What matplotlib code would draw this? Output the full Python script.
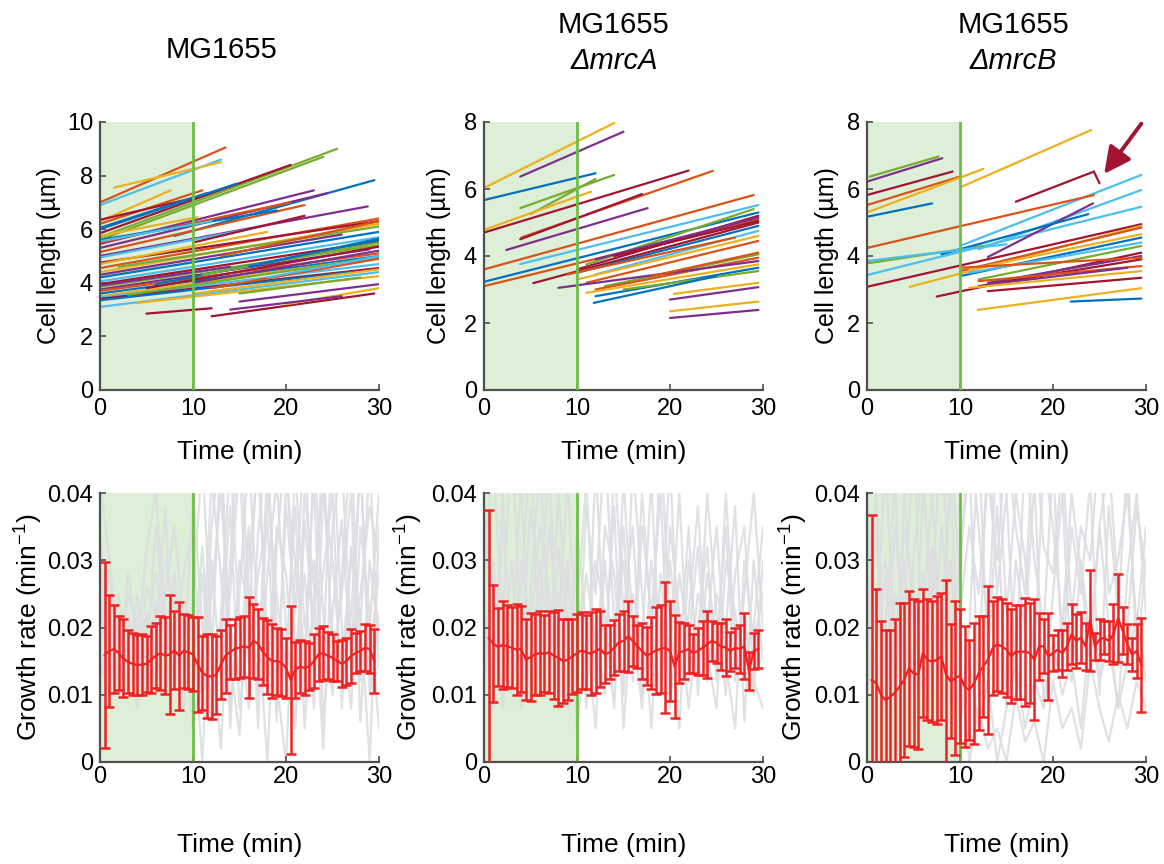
import matplotlib
matplotlib.use('Agg')
import matplotlib.pyplot as plt
import numpy as np

plt.rcParams['font.family'] = ['Liberation Sans', 'DejaVu Sans']
plt.rcParams['mathtext.fontset'] = 'custom'
plt.rcParams['mathtext.rm'] = 'Liberation Sans'
plt.rcParams['mathtext.it'] = 'Liberation Sans:italic'
plt.rcParams['mathtext.default'] = 'regular'

# ---------------- data ----------------
strain_names = ['MG1655', 'MG1655', 'MG1655']
mutations = ['', 'ΔmrcA', 'ΔmrcB']
palette = ['#0072BD', '#D95319', '#EDB120', '#7E2F8E', '#77AC30', '#4DBEEE', '#A2142F']

# cell length traces: start time, end time, start length, end length, colour index
wt_t0 = [0, 0, 1.5, 0, 0, 0, 0, 0, 0, 0, 0,
         0, 8, 0, 0, 0, 0, 0, 0, 0, 0, 0, 0, 2, 0, 0,
         0, 0, 0, 0, 0, 0, 0, 0, 0, 0, 0, 3, 5, 6, 4, 5, 12, 10, 10, 12, 11, 15, 15, 18, 16, 20, 14, 0, 0, 0, 10, 13]
wt_t1 = [13.5, 13, 13, 7.6, 25.5, 24, 20.5, 14.7, 11, 10.5, 11.5,
         28.8, 29.5, 23, 24.5, 20.5, 22, 19, 12, 10.5, 30, 30, 30, 30, 26, 30,
         30, 30, 30, 29, 30, 30, 28, 30, 30, 27, 30, 30, 30, 30, 30, 12, 29.5, 30, 30, 30, 30, 30, 28, 30, 30, 30, 26, 16, 18, 14, 22, 30]
wt_L0 = [7.00, 6.90, 7.55, 6.30, 5.70, 5.60, 5.85, 6.00, 6.20, 6.35, 6.05,
         5.00, 5.75, 5.45, 5.30, 5.50, 5.15, 5.60, 5.55, 5.75, 4.55, 4.75, 4.40, 4.60, 4.30, 4.20,
         4.05, 3.95, 3.85, 3.75, 3.70, 3.60, 3.50, 3.45, 3.40, 3.35, 3.10, 3.55, 3.80, 3.95, 3.25, 2.85, 2.75, 3.60, 4.00, 3.80,
         4.30, 3.30, 3.60, 4.20, 4.60, 3.20, 3.00, 4.95, 4.70, 3.90, 5.50, 5.00]
wt_L1 = [9.05, 8.60, 8.50, 7.45, 9.00, 8.70, 8.40, 7.70, 7.45, 7.20, 7.35,
         6.85, 7.83, 7.45, 7.35, 7.00, 6.90, 6.70, 6.30, 6.45, 6.40, 6.30, 6.20, 6.10, 5.80, 5.90,
         5.70, 5.55, 5.40, 5.25, 5.10, 5.00, 4.85, 4.70, 4.55, 4.40, 4.40, 4.95, 5.35, 5.60, 4.25, 3.05, 3.60, 4.50, 5.20, 4.90,
         5.50, 3.95, 4.20, 5.00, 5.65, 3.80, 3.50, 6.00, 5.90, 4.60, 6.50, 6.30]
wt_c = [1, 5, 2, 2, 4, 4, 6, 0, 1, 6, 0,
        3, 0, 3, 3, 1, 1, 0, 5, 2, 1, 6, 2, 4, 3, 0,
        5, 6, 4, 3, 1, 0, 2, 5, 6, 0, 5, 4, 6, 0, 2, 6, 6, 2, 3, 1,
        4, 3, 4, 5, 0, 2, 3, 5, 2, 3, 6, 1]

a_t0 = [0, 3.9, 0, 3.9, 5, 0, 0, 4, 3.9, 2.4, 0, 3.9, 0, 0, 5.3, 10, 11, 12, 10, 12, 10, 11, 13, 12, 8, 11,
        12, 15, 11.8, 20, 20, 20.4, 20, 18, 14, 9]
a_t1 = [14, 15, 12, 14, 12, 11.5, 22, 24.6, 17, 17.6, 29, 29.5, 29.5, 29.5, 29.5, 29.5, 29, 29.5, 29.5, 29.5, 29.5, 29.5, 29.5, 29.5, 29.5, 29.5,
        29.5, 29.5, 25, 29.5, 29.5, 29.5, 29.5, 29.5, 29.5, 27]
a_L0 = [6.03, 6.37, 5.67, 5.43, 5.25, 4.78, 4.70, 4.55, 4.50, 4.18, 3.60, 3.76, 3.23, 3.10, 3.19, 3.60, 3.75, 3.90, 3.50, 3.45, 3.30, 3.20, 3.10, 3.00, 3.05, 2.90,
        2.80, 3.00, 2.60, 2.35, 2.15, 2.87, 2.70, 3.40, 4.00, 3.45]
a_L1 = [7.97, 7.71, 6.47, 6.42, 6.30, 5.92, 6.55, 6.54, 5.85, 5.43, 5.82, 5.52, 5.30, 5.10, 5.00, 5.20, 5.40, 5.15, 4.90, 4.75, 4.60, 4.45, 4.05, 3.95, 3.85, 3.75,
        3.65, 3.55, 3.40, 2.64, 2.39, 3.20, 3.07, 4.10, 5.05, 4.55]
a_c = [2, 3, 0, 4, 4, 2, 6, 1, 6, 3, 1, 5, 0, 1, 6, 6, 4, 3, 0, 5, 2, 1, 4, 1, 3, 2,
       0, 4, 0, 2, 3, 2, 3, 1, 6, 1]

b_t0 = [0.3, 0, 0, 0, 0, 0, 10.2, 16, 24.4, 10, 12, 0, 0, 0, 13, 8, 0, 0, 4.6, 7.5, 10, 10, 11, 12, 11, 13, 12, 12, 13,
        11.9, 21.9, 10, 11, 13]
b_t1 = [7.7, 8.1, 9.2, 10, 12.5, 7, 24.1, 24.4, 25, 29.5, 29.5, 29.5, 24.4, 12.5, 24.3, 23.8, 15, 29.5, 29.5, 29.5, 29.5, 29.5, 29.5, 29.5, 29.5, 29.5, 29.5, 29.5, 28,
        29.5, 29.5, 29.5, 29.5, 29.5]
b_L0 = [6.37, 6.22, 5.82, 5.52, 5.30, 5.17, 6.07, 5.62, 6.52, 4.30, 4.20, 3.43, 4.24, 3.78, 3.97, 4.05, 3.85, 3.08, 3.08, 2.79, 3.55, 3.40, 3.60, 3.30, 3.50, 3.20, 3.10, 3.25, 3.15,
        2.39, 2.64, 3.65, 3.05, 2.95]
b_L1 = [6.97, 6.92, 6.52, 6.37, 6.60, 5.57, 7.76, 6.52, 6.17, 6.42, 5.97, 5.47, 5.82, 4.30, 5.57, 5.25, 4.35, 4.95, 4.90, 4.10, 4.85, 4.55, 4.65, 4.30, 4.40, 4.00, 3.90, 3.70, 3.65,
        3.04, 2.73, 3.95, 3.55, 3.35]
b_c = [4, 3, 6, 1, 2, 0, 2, 6, 6, 5, 5, 5, 1, 4, 3, 0, 5, 6, 2, 6, 1, 0, 2, 4, 5, 3, 6, 1, 3,
       2, 0, 1, 2, 6]

# growth rate: mean +/- sd every 0.5 min (values in 1e-3 min^-1)
rate_t = [0.5 * k for k in range(1, 60)]
wt_mean = [15.9, 16.5, 16.8, 16.2, 15.4, 14.9, 14.6, 14.4, 14.5, 14.6, 15.2, 15.8, 16.2, 15.8, 16.0, 16.6, 15.8, 16.5, 16.3, 16.0,
           14.5, 13.3, 12.8, 12.7, 13.0, 14.5, 15.8, 16.4, 16.8, 17.0, 17.2, 17.0, 18.0, 17.6, 16.4, 15.6, 15.0, 15.0, 14.8, 14.0,
           12.2, 13.7, 14.2, 14.0, 14.2, 15.0, 16.0, 16.2, 15.8, 15.5, 15.0, 14.6, 15.0, 15.8, 16.2, 16.5, 17.0, 16.8, 15.0]
wt_sd = [13.8, 8.3, 6.6, 5.5, 5.8, 4.7, 4.6, 4.5, 4.5, 4.2, 5.0, 4.8, 5.5, 5.7, 8.8, 5.8, 8.0, 5.5, 5.5, 5.5,
         7.0, 5.5, 6.2, 6.3, 5.8, 5.2, 5.5, 4.0, 4.5, 4.5, 4.5, 7.5, 5.5, 5.2, 5.0, 5.5, 5.5, 5.0, 5.0, 4.5,
         11.0, 4.2, 4.0, 4.0, 3.5, 4.0, 4.0, 4.0, 3.5, 3.5, 3.0, 3.5, 3.5, 4.0, 3.0, 3.0, 3.5, 3.5, 4.8]
a_mean = [18.4, 17.6, 17.1, 17.4, 17.2, 17.0, 16.7, 16.8, 15.2, 15.6, 16.0, 16.2, 16.1, 16.3, 15.8, 15.5, 15.0, 15.2, 15.7, 16.2,
          16.6, 16.3, 16.1, 16.5, 16.8, 16.0, 16.3, 17.0, 17.8, 18.0, 18.7, 18.0, 17.2, 16.5, 15.8, 16.2, 16.6, 16.8, 17.0, 16.5,
          14.2, 16.3, 16.5, 16.8, 16.2, 16.5, 17.0, 17.5, 18.0, 17.7, 17.2, 17.0, 16.5, 17.0, 16.8, 17.2, 13.5, 16.5, 16.8]
a_sd = [19.0, 8.7, 5.8, 6.6, 6.1, 6.0, 6.8, 6.4, 6.0, 6.6, 6.0, 6.3, 5.7, 6.1, 6.5, 7.1, 6.3, 6.0, 5.6, 5.8,
        5.7, 5.5, 6.2, 6.2, 5.6, 4.3, 4.0, 4.1, 4.2, 4.5, 5.3, 3.7, 3.2, 4.2, 4.3, 5.4, 6.5, 6.6, 9.7, 7.4,
        7.7, 4.5, 4.2, 3.5, 2.9, 3.5, 4.0, 5.0, 3.0, 3.0, 3.5, 4.2, 2.9, 3.0, 3.5, 4.9, 2.8, 2.7, 2.8]
b_mean = [12.2, 11.7, 10.0, 9.2, 9.7, 10.3, 11.2, 12.2, 13.9, 13.2, 13.0, 16.2, 15.2, 14.9, 15.2, 15.7, 13.0, 12.0, 12.5, 12.8,
          11.2, 10.7, 11.7, 13.2, 14.2, 15.2, 16.9, 17.5, 17.2, 16.7, 15.7, 16.4, 16.4, 16.4, 16.2, 15.2, 17.2, 17.2, 15.7, 16.2,
          16.7, 16.2, 17.2, 19.0, 18.0, 18.5, 17.2, 21.1, 17.2, 18.2, 18.5, 18.0, 19.0, 21.4, 19.5, 17.5, 16.0, 16.5, 14.4]
b_sd = [24.5, 14.0, 11.0, 10.5, 10.0, 11.0, 12.5, 11.5, 11.5, 11.0, 11.0, 9.5, 9.0, 9.0, 9.5, 9.5, 14.0, 8.5, 11.5, 10.0,
        9.0, 7.5, 9.0, 8.5, 7.5, 11.0, 7.0, 7.0, 7.0, 7.0, 7.0, 7.0, 7.0, 8.0, 7.5, 9.0, 5.0, 4.0, 6.5, 2.7,
        3.0, 3.5, 3.5, 4.5, 4.0, 3.8, 3.5, 7.5, 2.0, 3.0, 2.5, 3.0, 4.5, 6.5, 3.5, 3.0, 2.5, 4.0, 7.0]

# single-cell growth rates (grey), every 1 min, 1e-3 min^-1
gray_t = list(range(0, 31))
wt_gray = [
    [42, 30, 18, 22, 15, 20, 28, 18, 14, 20, 18, 10, 35, 48, 15, 4, 30, 44, 18, 8, 38, 22, 50, 12, 28, 40, 8, 32, 20, 45, 14],
    [25, 12, 20, 10, 16, 32, 40, 22, 12, 15, 12, 28, 6, 22, 45, 20, 8, 34, 48, 12, 0, 30, 16, 42, 6, 22, 36, 14, 46, 10, 22],
    [18, 22, 12, 25, 20, 10, 18, 30, 22, 8, 25, 45, 18, 2, 30, 50, 25, 10, 28, 42, 20, 5, 36, 20, 48, 14, 25, 40, 6, 30, 18],
    [30, 15, 25, 14, 22, 18, 12, 25, 35, 20, 5, 15, 42, 28, 8, 25, 46, 20, 0, 32, 48, 16, 28, 8, 40, 30, 12, 22, 44, 16, 28],
    [12, 20, 10, 18, 12, 26, 22, 10, 18, 28, 35, 8, 25, 40, 20, 12, 35, 5, 40, 25, 12, 44, 20, 30, 15, 50, 20, 8, 35, 22, 5],
    [20, 28, 15, 12, 25, 14, 35, 20, 26, 12, 15, 32, 12, 18, 38, 8, 20, 50, 12, 35, 28, 10, 40, 26, 2, 35, 45, 18, 25, 38, 30],
    [15, 10, 22, 20, 8, 22, 16, 38, 12, 24, 20, 0, 30, 12, 25, 45, 15, 28, 36, 6, 42, 30, 12, 46, 22, 10, 28, 48, 12, 20, 40],
    [35, 18, 12, 28, 18, 12, 24, 15, 28, 14, 40, 20, 15, 48, 5, 30, 22, 12, 45, 20, 15, 38, 5, 25, 42, 18, 15, 30, 22, 0, 35],
]
a_gray = [
    [30, 45, 20, 50, 15, 38, 22, 45, 12, 30, 10, 38, 25, 48, 20, 30, 12, 35, 22, 40, 8, 28, 18, 32, 12, 25, 20, 38, 6, 30, 15],
    [22, 12, 35, 18, 42, 10, 30, 15, 40, 20, 28, 8, 45, 15, 38, 5, 25, 18, 42, 12, 30, 15, 35, 10, 28, 18, 35, 12, 25, 40, 20],
    [10, 28, 15, 30, 8, 25, 45, 18, 25, 8, 35, 20, 5, 30, 12, 42, 20, 8, 30, 18, 45, 12, 22, 38, 16, 8, 30, 22, 15, 20, 35],
    [38, 18, 25, 10, 30, 20, 12, 35, 20, 42, 15, 28, 18, 10, 45, 22, 35, 10, 15, 48, 20, 5, 30, 15, 40, 22, 10, 28, 35, 12, 8],
    [15, 30, 8, 22, 25, 48, 15, 10, 32, 15, 22, 42, 12, 35, 28, 10, 45, 25, 5, 28, 15, 40, 12, 25, 20, 35, 15, 5, 30, 18, 25],
    [25, 8, 40, 15, 12, 20, 35, 25, 8, 28, 5, 18, 30, 22, 8, 35, 15, 40, 20, 10, 35, 22, 8, 20, 32, 12, 40, 18, 22, 10, 30],
]
b_gray = [
    [35, 20, 45, 15, 30, 10, 40, 25, 50, 18, 30, 45, 10, 50, 25, 40, 12, 48, 30, 20, 45, 15, 35, 25, 42, 10, 38, 22, 45, 15, 30],
    [20, 40, 12, 35, 22, 48, 15, 30, 12, 42, 5, 20, 48, 15, 38, 8, 30, 20, 42, 8, 25, 40, 12, 30, 18, 35, 20, 8, 28, 40, 22],
    [10, 25, 30, 8, 40, 20, 28, 10, 35, 20, 15, 0, 8, 2, 5, 0, 10, 3, 6, 0, 12, 5, 8, 2, 15, 8, 3, 10, 5, 12, 8],
    [28, 12, 20, 42, 10, 30, 45, 18, 25, 8, 22, 35, 25, 42, 30, 48, 35, 25, 50, 32, 28, 45, 22, 35, 30, 48, 25, 30, 40, 20, 35],
    [15, 35, 8, 25, 18, 12, 22, 40, 15, 30, 10, 15, 5, 12, 0, 8, 15, 5, 12, 8, 18, 10, 15, 5, 20, 12, 18, 8, 15, 22, 12],
    [40, 18, 28, 12, 35, 25, 10, 32, 20, 45, 28, 50, 35, 20, 48, 22, 40, 30, 15, 45, 35, 20, 40, 28, 15, 35, 45, 25, 20, 38, 28],
]

len_ticks = [[0, 2, 4, 6, 8, 10], [0, 2, 4, 6, 8], [0, 2, 4, 6, 8]]
rate_ticks = [0, 0.01, 0.02, 0.03, 0.04]
rate_ticklabels = ['0', '0.01', '0.02', '0.03', '0.04']
time_ticks = [0, 10, 20, 30]

# ---------------- figure ----------------
W, H = 1164, 864
fig = plt.figure(figsize=(W / 100, H / 100), dpi=100)

lefts = [100, 484, 867]
aw = 279
top_ax = [fig.add_axes([l / W, (H - 390) / H, aw / W, 268 / H]) for l in lefts]
bot_ax = [fig.add_axes([l / W, (H - 762) / H, aw / W, 269 / H]) for l in lefts]

SHADE = '#DDEFD6'
GLINE = '#6CBF45'
SPINE = '#505050'
FS = 17


def style(ax):
    for s in ['top', 'right']:
        ax.spines[s].set_visible(False)
    for s in ['left', 'bottom']:
        ax.spines[s].set_color(SPINE)
        ax.spines[s].set_linewidth(1.6)
    ax.tick_params(direction='in', length=4, width=1.2, color=SPINE, labelsize=FS)
    ax.tick_params(axis='y', pad=5)
    ax.set_xlim(0, 30)
    ax.set_xticks(time_ticks)


traces = [(wt_t0, wt_t1, wt_L0, wt_L1, wt_c), (a_t0, a_t1, a_L0, a_L1, a_c), (b_t0, b_t1, b_L0, b_L1, b_c)]
ylims = [10, 8, 8]
ylab_x = [-0.14, -0.118, -0.102]
for i, ax in enumerate(top_ax):
    style(ax)
    ax.tick_params(axis='x', pad=6)
    ax.axvspan(0, 10, color=SHADE, zorder=0, lw=0)
    t0, t1, L0, L1, cc = traces[i]
    for a, b, c, d, k in zip(t0, t1, L0, L1, cc):
        ax.plot([a, b], [c, d], color=palette[k], lw=1.6, zorder=2, solid_capstyle='round')
    ax.axvline(10, color=GLINE, lw=2, zorder=3)
    ax.set_ylim(0, ylims[i])
    ax.set_yticks(len_ticks[i])
    ax.set_ylabel('Cell length (µm)', fontsize=18)
    ax.yaxis.set_label_coords(ylab_x[i], 0.5)
    ax.set_xlabel('Time (min)', fontsize=19, va='center')
    ax.xaxis.set_label_coords(0.5, -0.232)

# arrow in the mrcB panel
top_ax[2].annotate('', xy=(25.5, 6.45), xytext=(29.5, 7.95),
                   arrowprops=dict(arrowstyle='-|>', color='#A2142F', lw=2.8, mutation_scale=40,
                                   shrinkA=0, shrinkB=0), zorder=5, annotation_clip=False)

means = [wt_mean, a_mean, b_mean]
sds = [wt_sd, a_sd, b_sd]
grays = [wt_gray, a_gray, b_gray]
ylab_x2 = [-0.197, -0.212, -0.205]
for i, ax in enumerate(bot_ax):
    style(ax)
    ax.tick_params(axis='x', pad=3)
    ax.axvspan(0, 10, color=SHADE, zorder=0, lw=0)
    for g in grays[i]:
        ax.plot(gray_t, np.array(g) * 1e-3, color='#DCDEE1', lw=1.6, alpha=0.9, zorder=1)
    ax.axvline(10, color=GLINE, lw=2, zorder=2)
    ax.errorbar(rate_t, np.array(means[i]) * 1e-3, yerr=np.array(sds[i]) * 1e-3,
                color='#EE2222', lw=1.6, elinewidth=1.8, capsize=3.5, capthick=1.8, zorder=3)
    ax.set_ylim(0, 0.04)
    ax.set_yticks(rate_ticks)
    ax.set_yticklabels(rate_ticklabels)
    ax.set_ylabel('Growth rate (min$^{-1}$)', fontsize=19)
    ax.yaxis.set_label_coords(ylab_x2[i], 0.5)
    ax.set_xlabel('Time (min)', fontsize=19, va='center')
    ax.xaxis.set_label_coords(0.5, -0.31)

# titles
fig.text(222 / W, 1 - 50 / H, strain_names[0], ha='center', va='center', fontsize=21)
for k, xc in [(1, 614), (2, 1013)]:
    fig.text(xc / W, 1 - 25 / H, strain_names[k], ha='center', va='center', fontsize=21)
    fig.text(xc / W, 1 - 61 / H, mutations[k], ha='center', va='center', fontsize=21, style='italic')

fig.savefig('out.png', dpi=100)
